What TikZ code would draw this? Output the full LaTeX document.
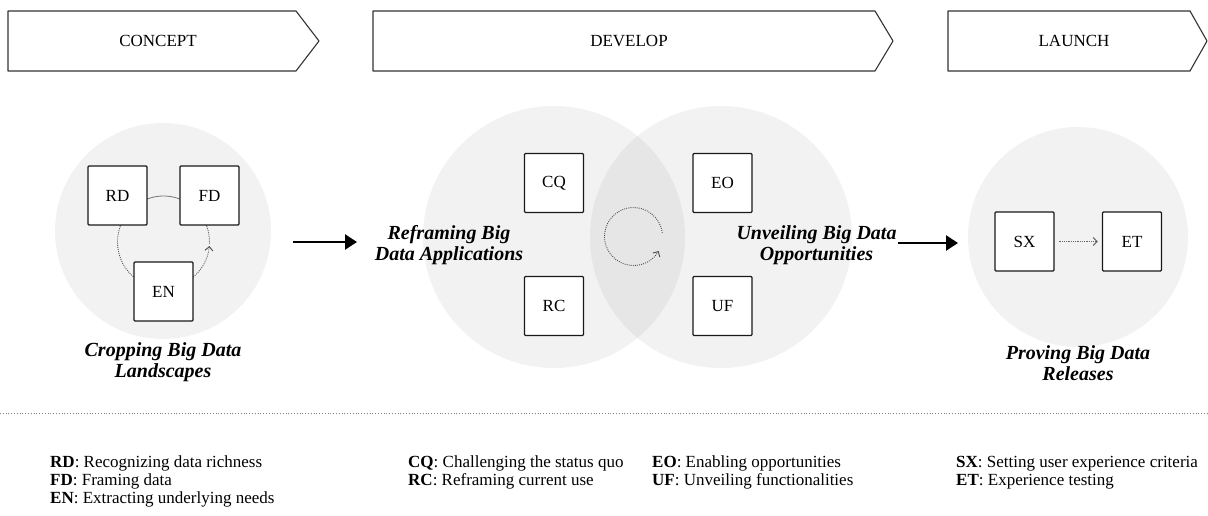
\documentclass[tikz,border=0pt]{standalone}
\usepackage{fontspec}
\setmainfont{Liberation Serif}
\usetikzlibrary{arrows.meta}
\tikzset{
  phase/.style={draw=black!80, line width=1.1pt, line join=round, fill=white},
  phasetext/.style={font=\fontsize{17}{20}\selectfont, anchor=base, inner sep=0pt},
  zone/.style={fill=black, fill opacity=0.05, draw=none},
  code/.style={draw=black!90, fill=white, line width=1.2pt, rounded corners=1pt,
    minimum size=59pt, inner sep=0pt, font=\fontsize{17}{20}\selectfont},
  stagetitle/.style={font=\fontsize{20}{21}\selectfont\bfseries\itshape, align=center, inner sep=0pt},
  flow/.style={line width=2.6pt, -{Triangle[length=12pt,width=15pt]}},
  loopsolid/.style={draw=black!55, line width=0.8pt},
  loopdot/.style={draw=black!70, line width=0.9pt, dash pattern=on 0.9pt off 1.2pt},
  barb/.style={-{Straight Barb[length=4pt,width=8pt]}},
  legend/.style={anchor=base west, font=\fontsize{17}{20}\selectfont, inner sep=0pt},
}
\begin{document}
\begin{tikzpicture}[x=1pt, y=-1pt]
\useasboundingbox (0,0) rectangle (1208,516);

% phase chevrons
\draw[phase] (8,11) -- (296,11) -- (319,41) -- (296,71) -- (8,71) -- cycle;
\node[phasetext] (concept) at (158,47) {CONCEPT};
\draw[phase] (373,11) -- (875,11) -- (893,41) -- (875,71) -- (373,71) -- cycle;
\node[phasetext] (develop) at (629,47) {DEVELOP};
\draw[phase] (948,11) -- (1190,11) -- (1207,41) -- (1190,71) -- (948,71) -- cycle;
\node[phasetext] (launch) at (1074,47) {LAUNCH};

% shaded stage zones
\fill[zone] (163,231) circle[radius=108];
\fill[zone] (554,237) circle[radius=131];
\fill[zone] (721,237) circle[radius=131];
\fill[zone] (1078,237) circle[radius=110];

% concept cycle
\coordinate (c1) at (163.5,242);
\draw[loopsolid] (c1) ++(-20:46) arc[start angle=-20, end angle=-160, radius=46];
\draw[loopdot] (c1) ++(-160:46) arc[start angle=-160, end angle=-235, radius=46];
\draw[loopdot, barb] (c1) ++(-305:46) arc[start angle=-305, end angle=-355, radius=46];
\draw[loopdot] (c1) ++(-358:46) arc[start angle=-358, end angle=-380, radius=46];

% develop cycle
\coordinate (c2) at (633.5,236.5);
\draw[loopdot, barb] (c2) ++(-7:29) arc[start angle=-7, end angle=-330, radius=29];

% code boxes
\node[code] (rd) at (117.5,195.5) {RD};
\node[code] (fd) at (209.5,195.5) {FD};
\node[code] (en) at (163.5,291.5) {EN};
\node[code] (cq) at (554,183) {CQ};
\node[code] (rc) at (554,306) {RC};
\node[code] (eo) at (722.5,183) {EO};
\node[code] (uf) at (722.5,306) {UF};
\node[code] (sx) at (1024.5,241.5) {SX};
\node[code] (et) at (1132,241.5) {ET};

\draw[draw=black!60, line width=1pt, dash pattern=on 0.8pt off 1pt, barb,
  shorten <=4pt, shorten >=4pt] (sx) -- (et);

% stage titles
\node[stagetitle] (t1) at (163,362) {Cropping Big Data\\Landscapes};
\node[stagetitle] (t2) at (449,245) {Reframing Big\\Data Applications};
\node[stagetitle] (t3) at (816.5,245) {Unveiling Big Data\\Opportunities};
\node[stagetitle] (t4) at (1078,363) {Proving Big Data\\Releases};

% transitions between stages
\coordinate (f1s) at (293,242);
\coordinate (f1e) at (357,242);
\coordinate (f2s) at (898,243);
\coordinate (f2e) at (958,243);
\draw[flow] (f1s) -- (f1e);
\draw[flow] (f2s) -- (f2e);

% separator
\coordinate (sepl) at (0,413);
\coordinate (sepr) at (1208,413);
\draw[draw=black!50, line width=0.8pt, dash pattern=on 0.8pt off 2pt] (sepl) -- (sepr);

% legend
\node[legend] (lrd) at (50,467) {\textbf{RD}: Recognizing data richness};
\node[legend] (lfd) at (50,485) {\textbf{FD}: Framing data};
\node[legend] (len) at (50,503) {\textbf{EN}: Extracting underlying needs};
\node[legend] (lcq) at (408,467) {\textbf{CQ}: Challenging the status quo};
\node[legend] (lrc) at (408,485) {\textbf{RC}: Reframing current use};
\node[legend] (leo) at (652,467) {\textbf{EO}: Enabling opportunities};
\node[legend] (luf) at (652,485) {\textbf{UF}: Unveiling functionalities};
\node[legend] (lsx) at (956,467) {\textbf{SX}: Setting user experience criteria};
\node[legend] (let) at (956,485) {\textbf{ET}: Experience testing};
\end{tikzpicture}
\end{document}
